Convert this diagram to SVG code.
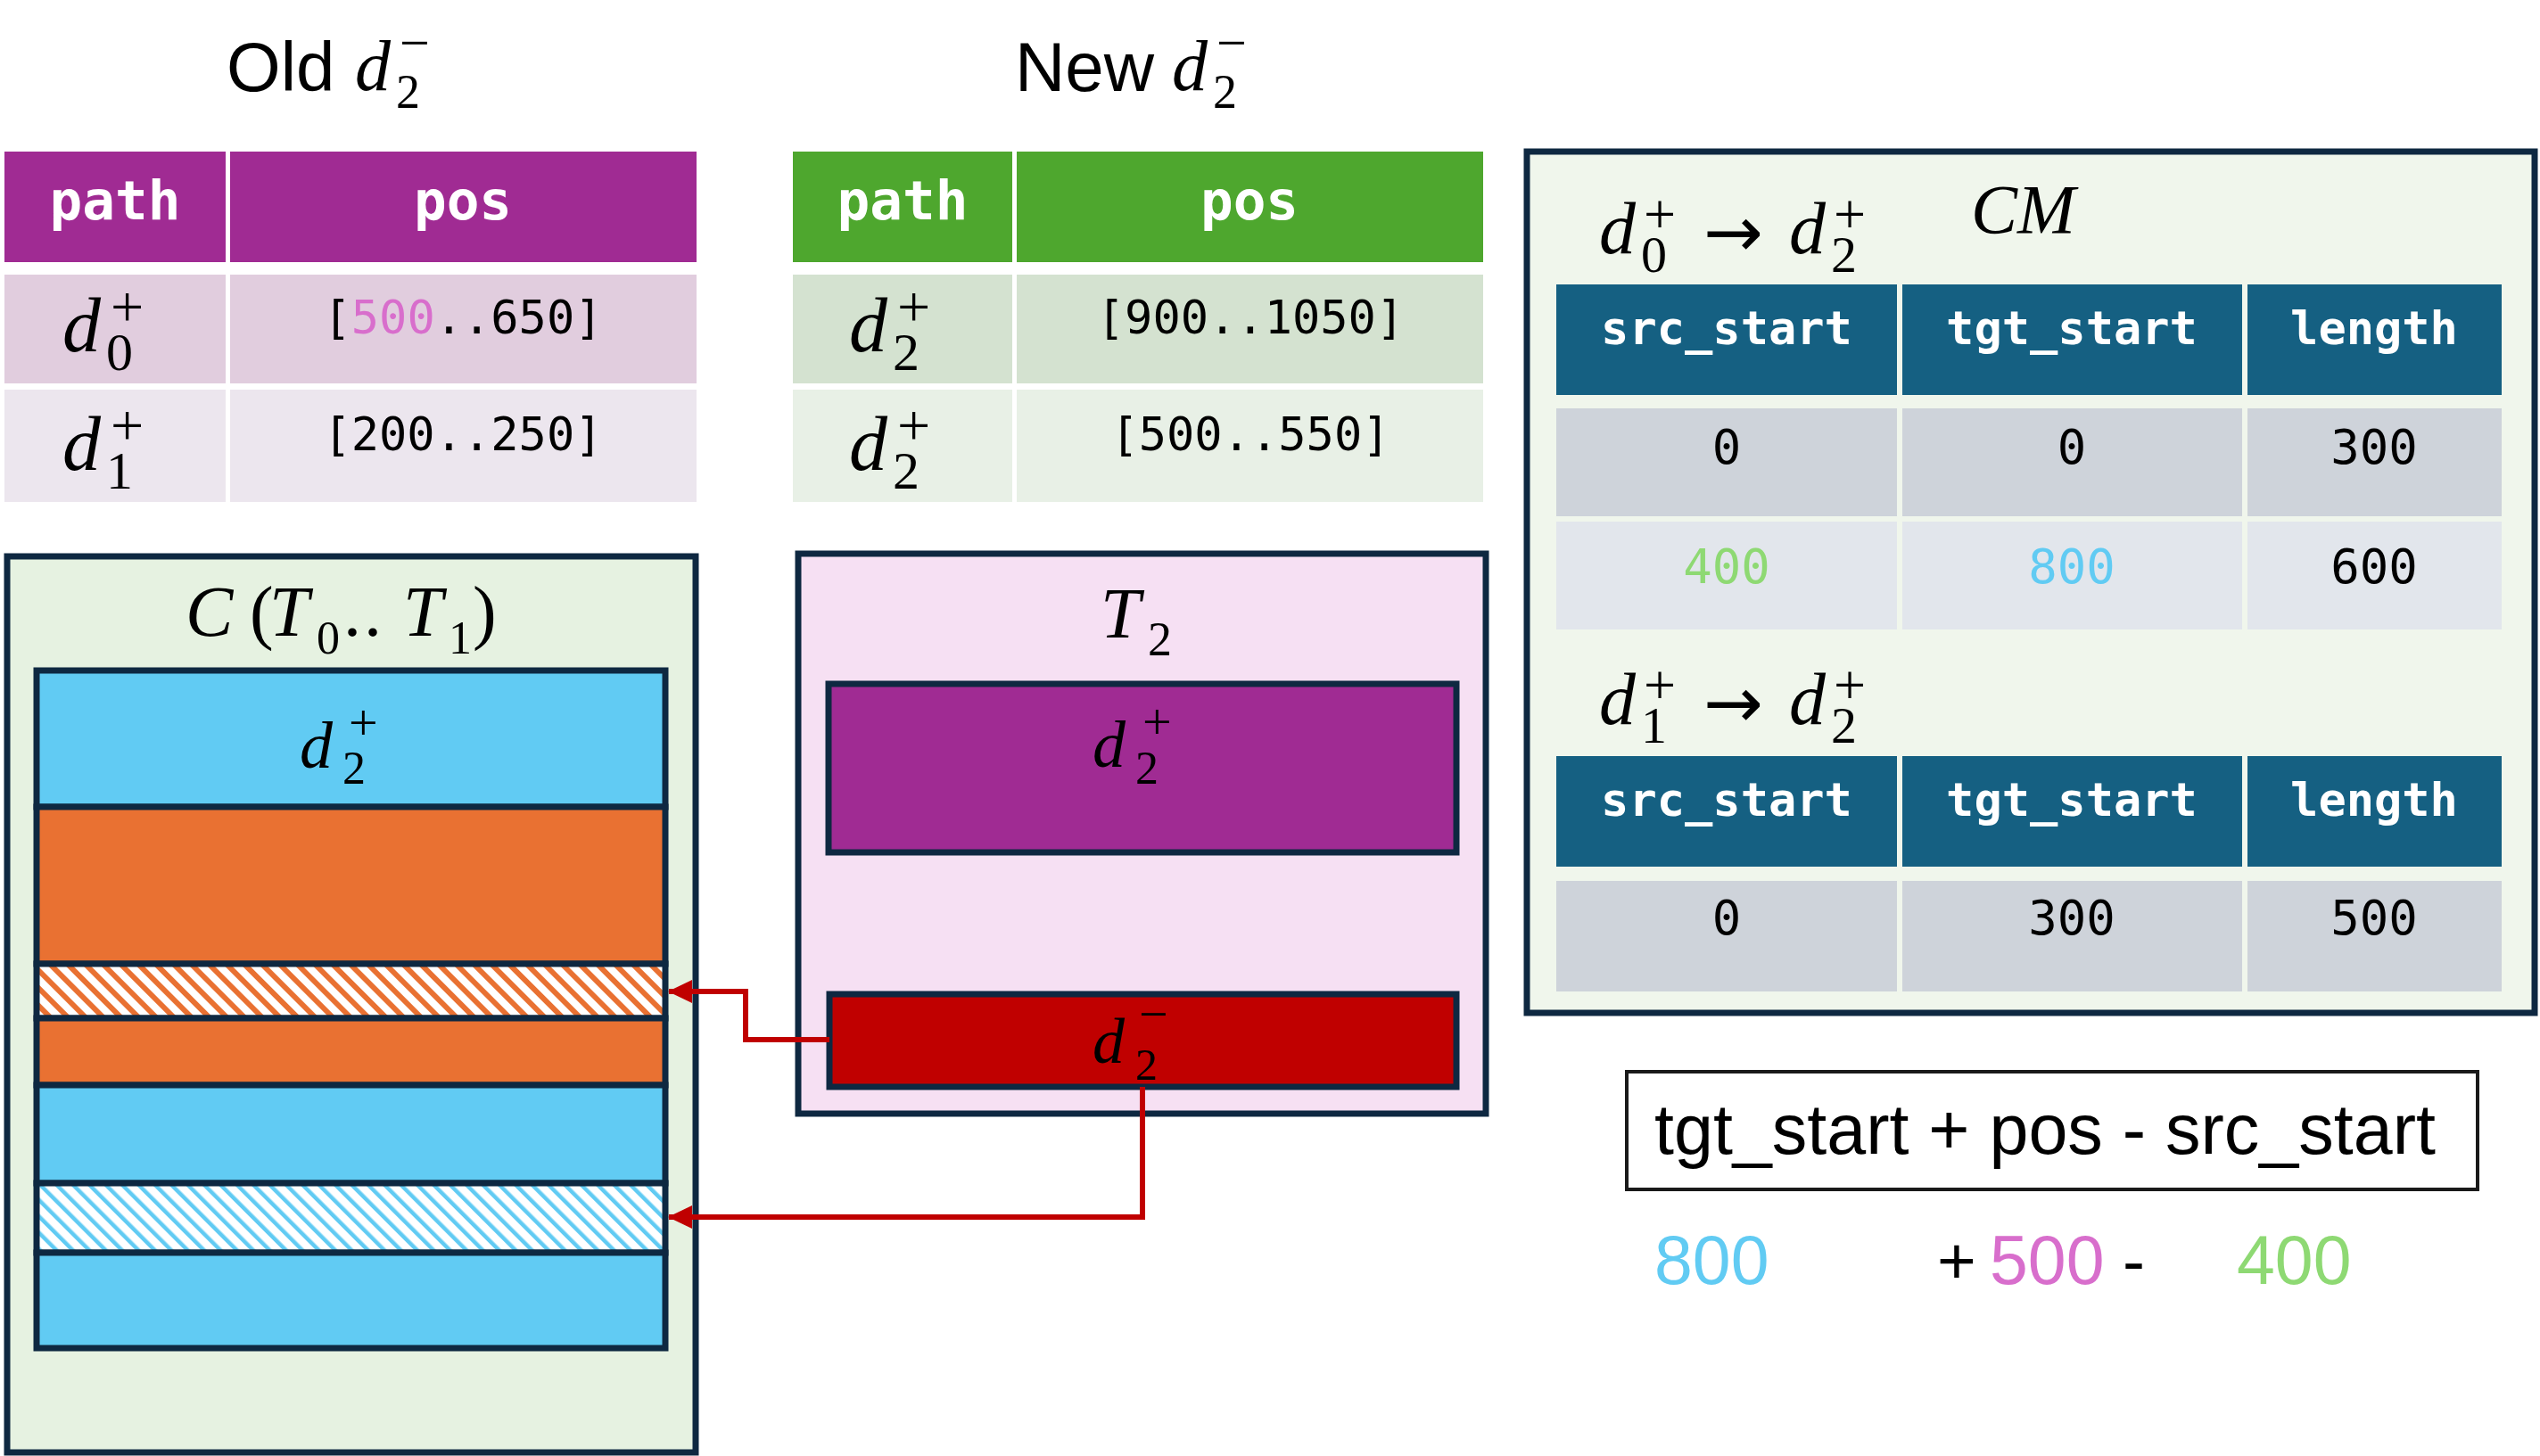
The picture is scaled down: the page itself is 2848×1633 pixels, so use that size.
<svg xmlns="http://www.w3.org/2000/svg" width="2848" height="1633" viewBox="0 0 2848 1633">
<defs>
<style>
.mi{font-family:"Liberation Serif",serif;font-style:italic;fill:#000}
.mn{font-family:"Liberation Serif",serif;fill:#000}
.arr{font-family:"DejaVu Sans",sans-serif;fill:#000}
.ttl{font-family:"Liberation Sans",sans-serif;fill:#000}
.hdr{font-family:"DejaVu Sans Mono",monospace;font-weight:bold;fill:#fff;text-anchor:middle}
.val{font-family:"DejaVu Sans Mono",monospace;fill:#000;text-anchor:middle}
.cBlue{fill:#61CBF3}
.cPink{fill:#D86ECC}
.cGreen{fill:#8ED973}
.bd{stroke:#0E2841;stroke-width:7}
.conn{fill:none;stroke:#C00000;stroke-width:6}
</style>
<pattern id="hatchO" patternUnits="userSpaceOnUse" width="14" height="14" patternTransform="rotate(-45)">
<rect width="14" height="14" fill="#fff"/><rect x="0" y="0" width="6" height="14" fill="#E97132"/>
</pattern>
<pattern id="hatchB" patternUnits="userSpaceOnUse" width="13" height="13" patternTransform="rotate(-45)">
<rect width="13" height="13" fill="#fff"/><rect x="0" y="0" width="4.5" height="13" fill="#61CBF3"/>
</pattern>
<marker id="ah" markerUnits="userSpaceOnUse" markerWidth="28" markerHeight="28" viewBox="0 0 28 28" refX="26" refY="14" orient="auto">
<path d="M0,1 L27,14 L0,27 z" fill="#C00000"/>
</marker>
</defs>
<rect width="2848" height="1633" fill="#fff"/>

<!-- Old table -->
<g id="old-title">
<text class="ttl" x="254" y="102" font-size="78">Old</text>
<text class="mi" x="398" y="101" font-size="80">d</text>
<text class="mn" x="444" y="121" font-size="54">2</text>
<text class="mn" x="448" y="68" font-size="60">−</text>
</g>
<g id="old-table">
<rect x="5" y="170" width="248" height="124" fill="#A02B93"/>
<rect x="258" y="170" width="523" height="124" fill="#A02B93"/>
<text class="hdr" x="129" y="246" font-size="61">path</text>
<text class="hdr" x="519" y="246" font-size="61">pos</text>
<rect x="5" y="308" width="248" height="122" fill="#E1CDDE"/>
<rect x="258" y="308" width="523" height="122" fill="#E1CDDE"/>
<rect x="5" y="437" width="248" height="126" fill="#ECE6EE"/>
<rect x="258" y="437" width="523" height="126" fill="#ECE6EE"/>
<text class="mi" x="70" y="394" font-size="86">d</text>
<text class="mn" x="119" y="415" font-size="60">0</text>
<text class="mn" x="124" y="366" font-size="66">+</text>
<text class="mi" x="70" y="527" font-size="86">d</text>
<text class="mn" x="119" y="548" font-size="60">1</text>
<text class="mn" x="124" y="499" font-size="66">+</text>
<text class="val" x="519" y="374" font-size="52">[<tspan class="cPink">500</tspan>..650]</text>
<text class="val" x="519" y="505" font-size="52">[200..250]</text>
</g>

<!-- New table -->
<g id="new-title">
<text class="ttl" x="1138" y="102" font-size="78">New</text>
<text class="mi" x="1314" y="101" font-size="80">d</text>
<text class="mn" x="1360" y="121" font-size="54">2</text>
<text class="mn" x="1364" y="68" font-size="60">−</text>
</g>
<g id="new-table">
<rect x="889" y="170" width="246" height="124" fill="#4EA72E"/>
<rect x="1140" y="170" width="523" height="124" fill="#4EA72E"/>
<text class="hdr" x="1012" y="246" font-size="61">path</text>
<text class="hdr" x="1401" y="246" font-size="61">pos</text>
<rect x="889" y="308" width="246" height="122" fill="#D4E2D0"/>
<rect x="1140" y="308" width="523" height="122" fill="#D4E2D0"/>
<rect x="889" y="437" width="246" height="126" fill="#E8F0E6"/>
<rect x="1140" y="437" width="523" height="126" fill="#E8F0E6"/>
<text class="mi" x="952" y="394" font-size="86">d</text>
<text class="mn" x="1001" y="415" font-size="60">2</text>
<text class="mn" x="1006" y="366" font-size="66">+</text>
<text class="mi" x="952" y="527" font-size="86">d</text>
<text class="mn" x="1001" y="548" font-size="60">2</text>
<text class="mn" x="1006" y="499" font-size="66">+</text>
<text class="val" x="1402" y="374" font-size="52">[900..1050]</text>
<text class="val" x="1402" y="505" font-size="52">[500..550]</text>
</g>

<!-- CM box -->
<g id="cm">
<rect x="1712" y="170" width="1130" height="966" fill="#F0F6EC" class="bd"/>
<text class="mi" x="1793" y="284" font-size="82">d</text>
<text class="mn" x="1840" y="305" font-size="58">0</text>
<text class="mn" x="1843" y="262" font-size="64">+</text>
<text class="arr" x="1910" y="288" font-size="80">→</text>
<text class="mi" x="2006" y="284" font-size="82">d</text>
<text class="mn" x="2053" y="305" font-size="58">2</text>
<text class="mn" x="2056" y="262" font-size="64">+</text>
<text class="mi" x="2210" y="261" font-size="78">CM</text>

<rect x="1745" y="319" width="382" height="124" fill="#156082"/>
<rect x="2133" y="319" width="381" height="124" fill="#156082"/>
<rect x="2520" y="319" width="285" height="124" fill="#156082"/>
<text class="hdr" x="1936" y="386" font-size="52">src_start</text>
<text class="hdr" x="2323" y="386" font-size="52">tgt_start</text>
<text class="hdr" x="2662" y="386" font-size="52">length</text>
<rect x="1745" y="458" width="382" height="121" fill="#CED3DA"/>
<rect x="2133" y="458" width="381" height="121" fill="#CED3DA"/>
<rect x="2520" y="458" width="285" height="121" fill="#CED3DA"/>
<rect x="1745" y="585" width="382" height="121" fill="#E2E6EC"/>
<rect x="2133" y="585" width="381" height="121" fill="#E2E6EC"/>
<rect x="2520" y="585" width="285" height="121" fill="#E2E6EC"/>
<text class="val" x="1936" y="520" font-size="54">0</text>
<text class="val" x="2323" y="520" font-size="54">0</text>
<text class="val" x="2662" y="520" font-size="54">300</text>
<text class="val cGreen" x="1936" y="654" font-size="54">400</text>
<text class="val cBlue" x="2323" y="654" font-size="54">800</text>
<text class="val" x="2662" y="654" font-size="54">600</text>

<text class="mi" x="1793" y="812" font-size="82">d</text>
<text class="mn" x="1840" y="833" font-size="58">1</text>
<text class="mn" x="1843" y="790" font-size="64">+</text>
<text class="arr" x="1910" y="816" font-size="80">→</text>
<text class="mi" x="2006" y="812" font-size="82">d</text>
<text class="mn" x="2053" y="833" font-size="58">2</text>
<text class="mn" x="2056" y="790" font-size="64">+</text>

<rect x="1745" y="848" width="382" height="124" fill="#156082"/>
<rect x="2133" y="848" width="381" height="124" fill="#156082"/>
<rect x="2520" y="848" width="285" height="124" fill="#156082"/>
<text class="hdr" x="1936" y="915" font-size="52">src_start</text>
<text class="hdr" x="2323" y="915" font-size="52">tgt_start</text>
<text class="hdr" x="2662" y="915" font-size="52">length</text>
<rect x="1745" y="988" width="382" height="124" fill="#CED3DA"/>
<rect x="2133" y="988" width="381" height="124" fill="#CED3DA"/>
<rect x="2520" y="988" width="285" height="124" fill="#CED3DA"/>
<text class="val" x="1936" y="1048" font-size="54">0</text>
<text class="val" x="2323" y="1048" font-size="54">300</text>
<text class="val" x="2662" y="1048" font-size="54">500</text>
</g>

<!-- C box -->
<g id="c-box">
<rect x="8" y="624" width="772" height="1005" fill="#E6F2E1" class="bd"/>
<text class="mi" x="208" y="713" font-size="80">C</text>
<text class="mn" x="280" y="713" font-size="80">(</text>
<text class="mi" x="302" y="713" font-size="80">T</text>
<text class="mn" x="355" y="733" font-size="52">0</text>
<text class="mn" x="385" y="713" font-size="80">.</text>
<text class="mn" x="408" y="713" font-size="80">.</text>
<text class="mi" x="452" y="713" font-size="80">T</text>
<text class="mn" x="503" y="733" font-size="52">1</text>
<text class="mn" x="530" y="713" font-size="80">)</text>
</g>
<g id="c-bands">
<rect x="41" y="752" width="705" height="153" fill="#61CBF3" class="bd"/>
<rect x="41" y="905" width="705" height="176" fill="#E97132" class="bd"/>
<rect x="41" y="1081" width="705" height="61" fill="url(#hatchO)" class="bd"/>
<rect x="41" y="1142" width="705" height="75" fill="#E97132" class="bd"/>
<rect x="41" y="1217" width="705" height="110" fill="#61CBF3" class="bd"/>
<rect x="41" y="1327" width="705" height="78" fill="url(#hatchB)" class="bd"/>
<rect x="41" y="1405" width="705" height="107" fill="#61CBF3" class="bd"/>
<text class="mi" x="336" y="861" font-size="74">d</text>
<text class="mn" x="384" y="879" font-size="52">2</text>
<text class="mn" x="391" y="830" font-size="58">+</text>
</g>

<!-- T2 box -->
<g id="t2-box">
<rect x="895" y="621" width="771" height="628" fill="#F6E0F3" class="bd"/>
<text class="mi" x="1234" y="715" font-size="80">T</text>
<text class="mn" x="1287" y="735" font-size="54">2</text>
</g>
<g id="t2-dplus">
<rect x="929" y="767" width="704" height="189" fill="#A02B93" class="bd"/>
<text class="mi" x="1225" y="860" font-size="74">d</text>
<text class="mn" x="1273" y="879" font-size="52">2</text>
<text class="mn" x="1281" y="829" font-size="58">+</text>
</g>
<g id="t2-dminus">
<rect x="930" y="1115" width="703" height="104" fill="#C00000" class="bd"/>
<text class="mi" x="1225" y="1192" font-size="72">d</text>
<text class="mn" x="1273" y="1211" font-size="50">2</text>
<text class="mn" x="1277" y="1157" font-size="58">−</text>
</g>

<!-- connectors -->
<g id="connectors">
<path class="conn" d="M930,1166 H836 V1112 H750" marker-end="url(#ah)"/>
<path class="conn" d="M1281,1219 V1365 H750" marker-end="url(#ah)"/>
</g>

<!-- formula -->
<g id="formula">
<rect x="1824" y="1202" width="954" height="132" fill="#fff" stroke="#1a1a1a" stroke-width="4"/>
<text class="ttl" x="1855" y="1294" font-size="79">tgt_start + pos - src_start</text>
</g>
<g id="values">
<text class="ttl cBlue" x="1855" y="1440" font-size="77">800</text>
<text class="ttl" x="2172" y="1440" font-size="75">+</text>
<text class="ttl cPink" x="2231" y="1440" font-size="77">500</text>
<text class="ttl" x="2380" y="1440" font-size="75">-</text>
<text class="ttl cGreen" x="2508" y="1440" font-size="77">400</text>
</g>
</svg>
